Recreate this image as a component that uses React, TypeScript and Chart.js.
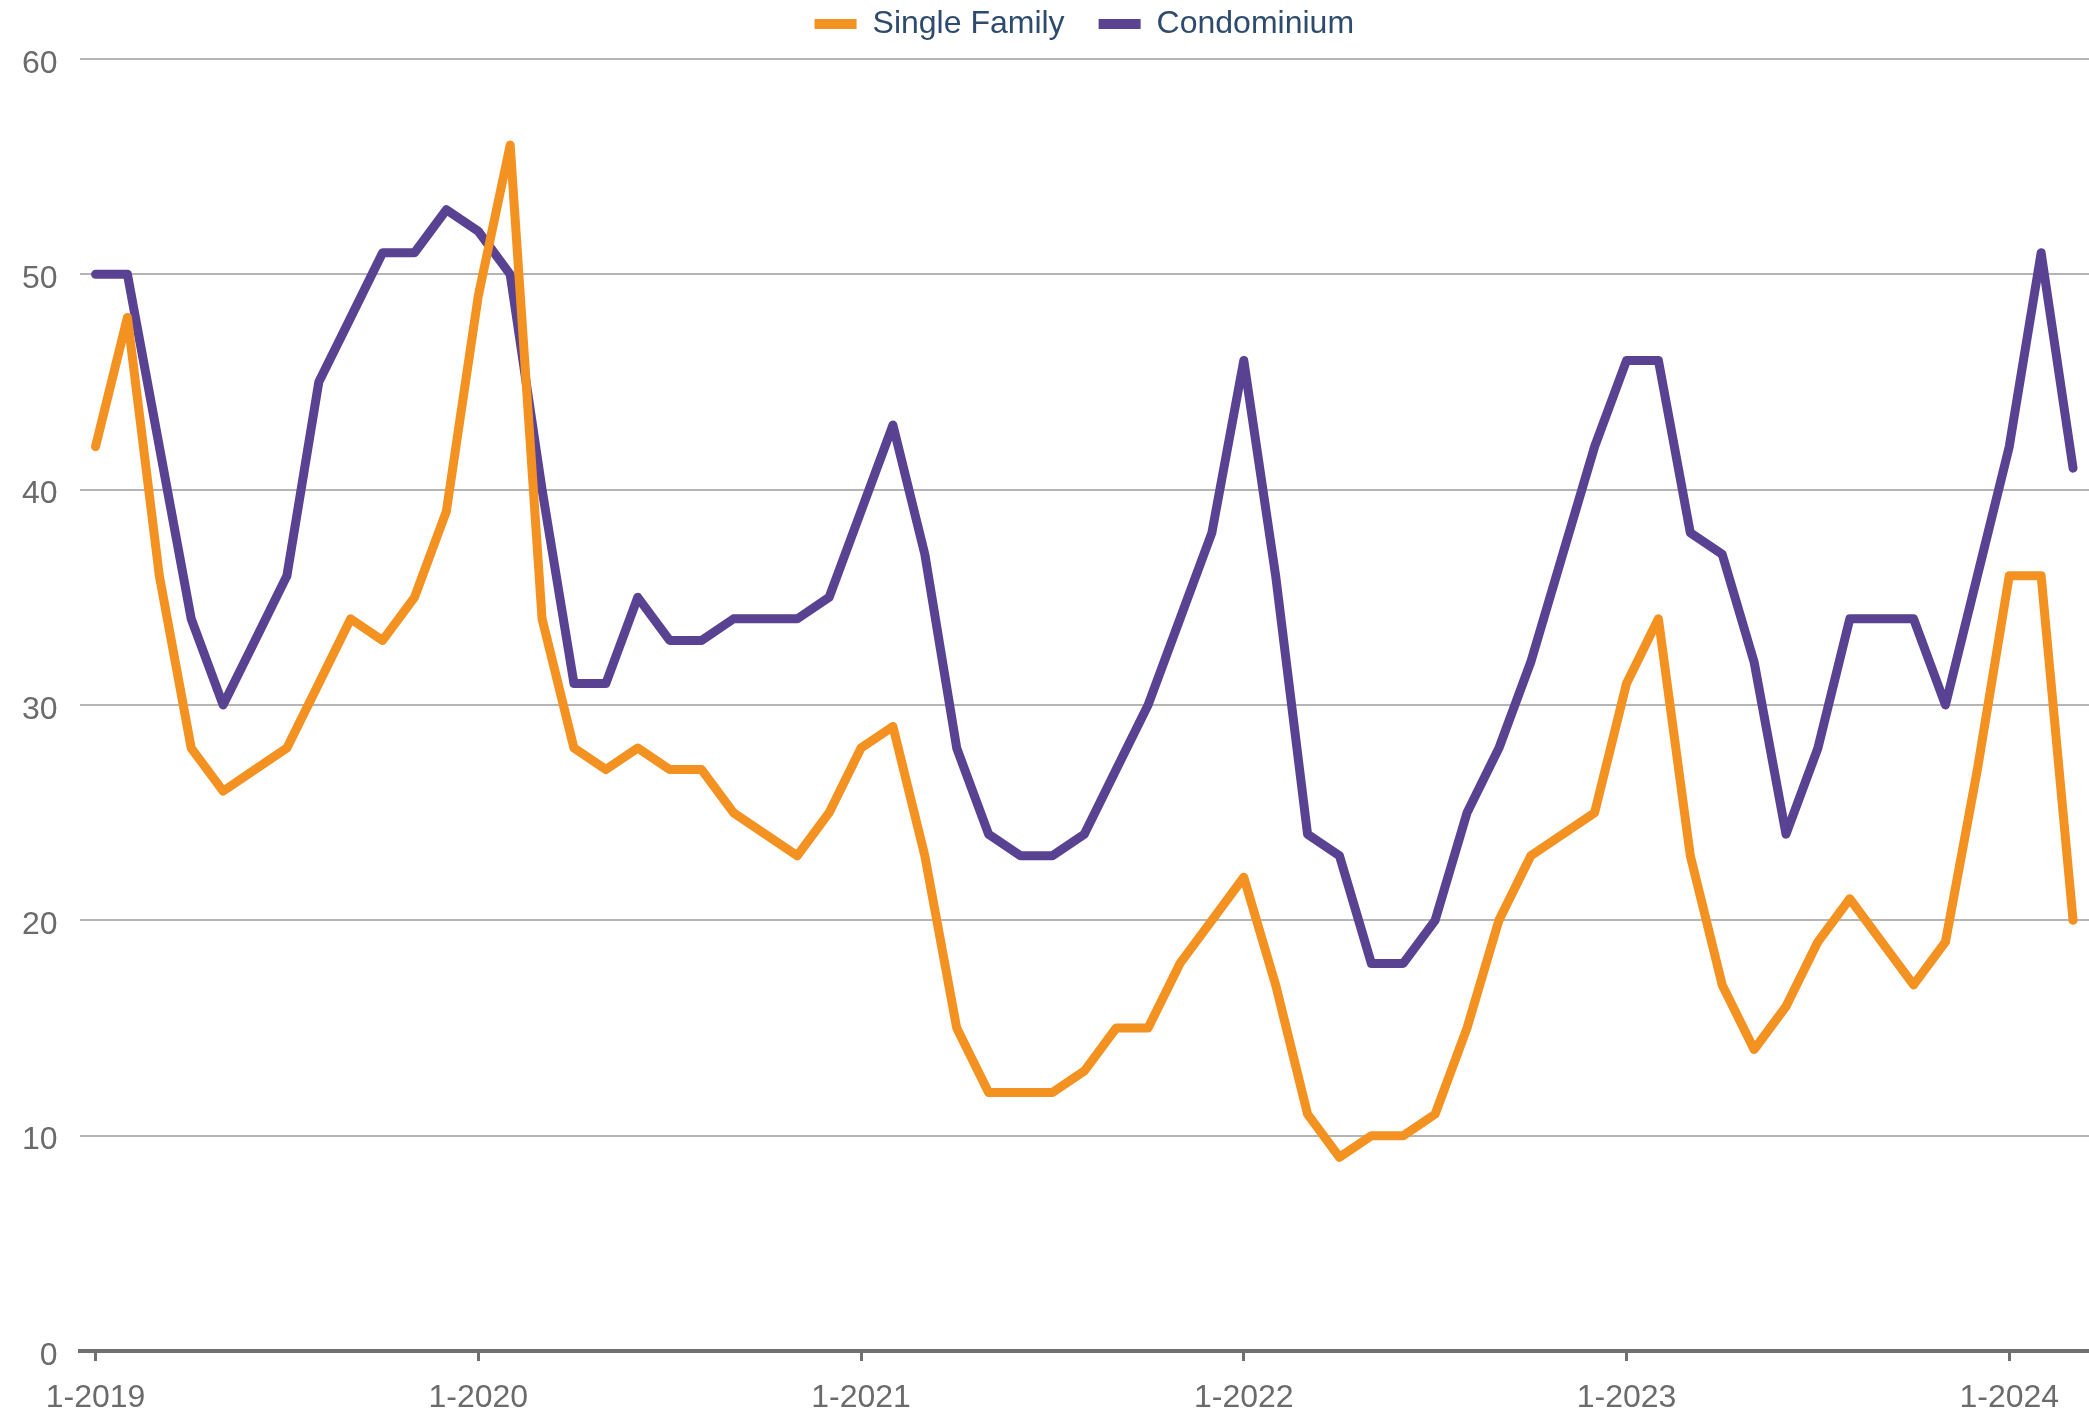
import React, { useEffect, useRef } from "react";
import { Chart, registerables } from "chart.js";

Chart.register(...registerables);

const years = [2019, 2020, 2021, 2022, 2023, 2024];
const categories: string[] = [];
for (const y of years) {
  for (let m = 1; m <= 12; m++) {
    if (y === 2024 && m > 3) break;
    categories.push(`${m}-${y}`);
  }
}

const singleFamily = [
  42, 48, 36, 28, 26, 27, 28, 31, 34, 33, 35, 39,
  49, 56, 34, 28, 27, 28, 27, 27, 25, 24, 23, 25,
  28, 29, 23, 15, 12, 12, 12, 13, 15, 15, 18, 20,
  22, 17, 11, 9, 10, 10, 11, 15, 20, 23, 24, 25,
  31, 34, 23, 17, 14, 16, 19, 21, 19, 17, 19, 27,
  36, 36, 20,
];

const condominium = [
  50, 50, 42, 34, 30, 33, 36, 45, 48, 51, 51, 53,
  52, 50, 40, 31, 31, 35, 33, 33, 34, 34, 34, 35,
  39, 43, 37, 28, 24, 23, 23, 24, 27, 30, 34, 38,
  46, 36, 24, 23, 18, 18, 20, 25, 28, 32, 37, 42,
  46, 46, 38, 37, 32, 24, 28, 34, 34, 34, 30, 36,
  42, 51, 41,
];

const seriesNames = ["Single Family", "Condominium"];
const seriesColors = ["#F39121", "#5A4292"];
const legendTextColor = "#2E4B6E";
const FONT = "'Liberation Sans', Arial, sans-serif";

const legendHeightPlugin = {
  id: "legendHeightPlugin",
  beforeInit(chart: any) {
    const lg = chart.legend;
    if (!lg) return;
    const orig = lg.fit;
    lg.fit = function (this: any) {
      orig.call(this);
      this.height += 9;
    };
  },
};

export default function App() {
  const ref = useRef<HTMLCanvasElement | null>(null);

  useEffect(() => {
    document.body.style.margin = "0";
    document.body.style.overflow = "hidden";
    const canvas = ref.current;
    if (!canvas) return;
    const mkDs = (i: number, data: number[]) => ({
      label: seriesNames[i],
      data,
      borderColor: seriesColors[i],
      backgroundColor: seriesColors[i],
      borderWidth: 9,
      pointRadius: 0,
      tension: 0,
      borderCapStyle: "round" as const,
      borderJoinStyle: "round" as const,
    });
    const chart = new Chart(canvas, {
      type: "line",
      data: {
        labels: categories,
        datasets: [mkDs(0, singleFamily), mkDs(1, condominium)],
      },
      plugins: [legendHeightPlugin],
      options: {
        responsive: false,
        devicePixelRatio: 1,
        animation: false,
        layout: { padding: { left: 0, right: 0, top: -26, bottom: 0 } },
        plugins: {
          tooltip: { enabled: false },
          legend: {
            position: "top",
            fullSize: false,
            labels: {
              boxWidth: 42,
              boxHeight: 10,
              padding: 34,
              color: legendTextColor,
              font: { family: FONT, size: 32 },
              generateLabels: (ch: any) =>
                ch.data.datasets.map((ds: any, i: number) => ({
                  text: ds.label,
                  fillStyle: seriesColors[i],
                  strokeStyle: seriesColors[i],
                  lineWidth: 0,
                  hidden: false,
                  datasetIndex: i,
                  fontColor: legendTextColor,
                })),
            },
          },
        },
        scales: {
          x: {
            type: "category",
            offset: true,
            grid: {
              display: true,
              drawOnChartArea: false,
              drawTicks: true,
              tickLength: 10,
              color: "#707070",
              lineWidth: 3,
            },
            border: { display: true, color: "#707070", width: 4 },
            ticks: {
              autoSkip: false,
              maxRotation: 0,
              padding: 5,
              color: "#6b6b6b",
              font: { family: FONT, size: 32, lineHeight: 2 },
              callback: function (_v: any, i: number) {
                return i % 12 === 0 ? categories[i] : null;
              },
            },
          },
          y: {
            min: 0,
            max: 60,
            ticks: {
              stepSize: 10,
              padding: 22,
              labelOffset: 5,
              color: "#6b6b6b",
              font: { family: FONT, size: 32 },
            },
            grid: {
              color: "#B5B5B5",
              lineWidth: 2,
              drawTicks: false,
            },
            border: { display: false },
          },
        },
      },
    });
    return () => chart.destroy();
  }, []);

  return (
    <div style={{ width: 2089, height: 1410, overflow: "hidden" }}>
      <canvas ref={ref} width={2089} height={1435} style={{ display: "block" }} />
    </div>
  );
}
